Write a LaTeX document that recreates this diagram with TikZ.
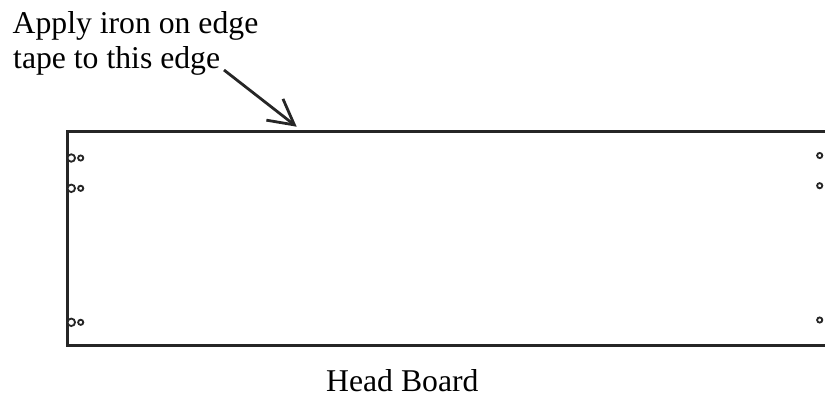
\documentclass[tikz,border=0pt]{standalone}
\usepackage{fontspec}
\setmainfont{Liberation Serif}
\usetikzlibrary{arrows.meta}
\tikzset{
  % Panel outline
  panel/.style={line width=3bp, black!85},
  % Drilled holes
  bighole/.style={draw=black!85, fill=white, shape=circle, minimum size=7.5bp, inner sep=0pt, line width=1.8bp},
  smallhole/.style={draw=black!85, fill=white, shape=circle, minimum size=5.2bp, inner sep=0pt, line width=1.8bp},
  % Labels
  lbl/.style={font=\fontsize{31.7bp}{33bp}\selectfont, inner sep=0pt, anchor=base west},
  % Arrow
  pointer/.style={line width=2.8bp, black!85, -{Straight Barb[length=25bp, width=27bp]}},
}

\begin{document}
\begin{tikzpicture}[x=1bp, y=-1bp]
  \useasboundingbox (0,0) rectangle (825,398);

  \draw[panel] (826,131.5) -- (67,131.5) -- (67,345.7) -- (826,345.7);

  \foreach \y/\n in {158/a, 188.3/b, 322.3/c} {
    \node[bighole] (l\n) at (71.3,\y) {};
    \node[smallhole] (m\n) at (80.7,\y) {};
  }
  \foreach \y/\n in {155.5/a, 185.7/b, 320/c} {
    \node[smallhole] (r\n) at (819.7,\y) {};
  }

  \node[lbl] (line1) at (12.5,33.5) {Apply iron on edge};
  \node[lbl] (line2) at (13,68.5) {tape to this edge};
  \node[lbl] (name) at (326,391) {Head Board};

  \coordinate (from) at (224,70);
  \coordinate (tip) at (296.7,126.7);
  \draw[pointer] (from) -- (tip);
\end{tikzpicture}
\end{document}
